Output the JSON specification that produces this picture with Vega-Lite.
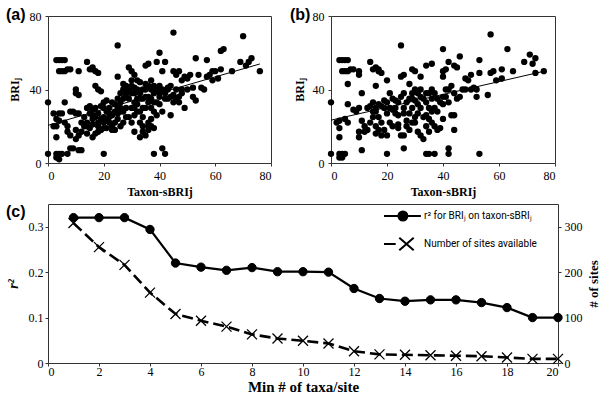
{
  "$schema": "https://vega.github.io/schema/vega-lite/v6.json",
  "padding": {"left": 5, "top": 6, "right": 0, "bottom": 0},
  "background": "white",
  "datasets": {
    "a": [
      {"x":45,"y":71},{"x":70,"y":69},{"x":25,"y":64},
      {"x":3,"y":56},{"x":4,"y":56},{"x":5,"y":56},{"x":6,"y":56},
      {"x":4,"y":50},{"x":5,"y":50},{"x":6,"y":50},{"x":7,"y":51},{"x":8,"y":51},{"x":11,"y":50},
      {"x":14,"y":55},{"x":15,"y":51},{"x":16,"y":51},{"x":17,"y":50},{"x":18,"y":49},{"x":16,"y":52},
      {"x":10,"y":40},{"x":10,"y":38},{"x":11,"y":37},{"x":17,"y":42},{"x":18,"y":40},{"x":19,"y":39},
      {"x":0,"y":33},{"x":0,"y":5},{"x":3,"y":5},{"x":4,"y":5},{"x":5,"y":5},{"x":3,"y":3},{"x":4,"y":2},{"x":7,"y":5},{"x":8,"y":8},{"x":9,"y":8},{"x":11,"y":7},{"x":12,"y":7},{"x":20,"y":5},{"x":38,"y":5},{"x":41,"y":8},{"x":42,"y":5},
      {"x":2,"y":20},{"x":3,"y":20},{"x":3,"y":24},{"x":4,"y":23},{"x":3,"y":14},{"x":2,"y":27},{"x":4,"y":27},{"x":5,"y":27},{"x":6,"y":22},{"x":7,"y":20},{"x":7,"y":17},{"x":8,"y":15},{"x":6,"y":33},{"x":8,"y":28},{"x":9,"y":28},{"x":10,"y":27},{"x":11,"y":27},{"x":10,"y":18},{"x":11,"y":15},{"x":12,"y":17},{"x":13,"y":20},{"x":14,"y":20},{"x":10,"y":13},{"x":14,"y":30},{"x":15,"y":31},{"x":16,"y":26},{"x":16,"y":24},{"x":17,"y":30},{"x":17,"y":16},{"x":18,"y":20},{"x":18,"y":22},{"x":19,"y":18},{"x":20,"y":22},{"x":20,"y":25},{"x":21,"y":28},{"x":21,"y":19},{"x":22,"y":25},{"x":22,"y":30},{"x":23,"y":20},{"x":23,"y":18},{"x":24,"y":22},{"x":24,"y":32},{"x":25,"y":27},{"x":25,"y":24},{"x":25,"y":35},{"x":25,"y":47},{"x":26,"y":33},{"x":26,"y":38},{"x":27,"y":35},{"x":27,"y":40},{"x":28,"y":42},{"x":28,"y":30},{"x":29,"y":35},{"x":29,"y":52},{"x":30,"y":50},{"x":30,"y":45},{"x":31,"y":48},{"x":32,"y":45},{"x":32,"y":40},{"x":29,"y":25},{"x":30,"y":22},{"x":31,"y":17},{"x":30,"y":30},{"x":31,"y":33},{"x":32,"y":32},{"x":33,"y":28},{"x":33,"y":38},{"x":34,"y":35},{"x":34,"y":25},{"x":34,"y":20},{"x":35,"y":40},{"x":35,"y":43},{"x":35,"y":30},{"x":35,"y":15},{"x":36,"y":42},{"x":36,"y":20},{"x":36,"y":18},{"x":37,"y":45},{"x":37,"y":35},{"x":37,"y":30},{"x":38,"y":33},{"x":38,"y":38},{"x":38,"y":19},{"x":39,"y":40},{"x":39,"y":55},{"x":40,"y":60},{"x":40,"y":32},{"x":40,"y":36},{"x":41,"y":50},{"x":41,"y":40},{"x":41,"y":28},{"x":42,"y":55},{"x":42,"y":35},{"x":43,"y":40},{"x":43,"y":35},{"x":44,"y":42},{"x":44,"y":26},{"x":45,"y":50},{"x":45,"y":37},{"x":46,"y":48},{"x":46,"y":35},{"x":47,"y":50},{"x":47,"y":33},{"x":48,"y":40},{"x":48,"y":45},{"x":49,"y":30},{"x":49,"y":47},{"x":50,"y":46},{"x":50,"y":40},{"x":51,"y":48},{"x":52,"y":36},{"x":52,"y":41},{"x":53,"y":34},{"x":53,"y":57},{"x":54,"y":48},{"x":55,"y":41},{"x":56,"y":40},{"x":57,"y":47},{"x":57,"y":56},{"x":58,"y":48},{"x":59,"y":45},{"x":59,"y":50},{"x":60,"y":50},{"x":61,"y":46},{"x":62,"y":61},{"x":62,"y":51},{"x":63,"y":62},{"x":66,"y":50},{"x":69,"y":55},{"x":71,"y":53},{"x":72,"y":55},{"x":73,"y":57},{"x":76,"y":50},
      {"x":13,"y":25},{"x":14,"y":22},{"x":15,"y":19},{"x":16,"y":21},{"x":18,"y":27},{"x":19,"y":31},{"x":20,"y":33},{"x":20,"y":30},{"x":21,"y":34},{"x":22,"y":27},{"x":23,"y":33},{"x":24,"y":28},{"x":26,"y":20},{"x":26,"y":28},{"x":27,"y":22},{"x":27,"y":28},{"x":28,"y":25},{"x":28,"y":37},{"x":29,"y":40},{"x":30,"y":38},{"x":31,"y":38},{"x":32,"y":28},{"x":33,"y":22},{"x":33,"y":35},{"x":34,"y":40},{"x":35,"y":36},{"x":36,"y":36},{"x":36,"y":33},{"x":37,"y":24},{"x":38,"y":28},{"x":39,"y":33},{"x":40,"y":38},{"x":16,"y":29},{"x":17,"y":25},{"x":19,"y":24},{"x":21,"y":23},{"x":23,"y":26},{"x":25,"y":30},{"x":31,"y":26},{"x":34,"y":30},{"x":38,"y":42},{"x":39,"y":26},{"x":24,"y":18},{"x":22,"y":22},{"x":20,"y":19},{"x":18,"y":17},{"x":15,"y":27},{"x":12,"y":22},{"x":14,"y":16},{"x":16,"y":14},{"x":33,"y":14},{"x":34,"y":17},{"x":36,"y":22},{"x":37,"y":20},{"x":31,"y":41},{"x":33,"y":44},{"x":35,"y":53},{"x":36,"y":54},{"x":30,"y":42},{"x":27,"y":43},{"x":28,"y":38},{"x":26,"y":30},{"x":31,"y":30},{"x":32,"y":35},{"x":37,"y":40},{"x":40,"y":42},{"x":42,"y":38},{"x":43,"y":41},{"x":44,"y":36},{"x":45,"y":33},{"x":46,"y":40},{"x":47,"y":36},{"x":48,"y":38}
    ],
    "b": [
      {"x":25,"y":64},{"x":57,"y":70},{"x":40,"y":62},{"x":63,"y":62},
      {"x":3,"y":56},{"x":4,"y":56},{"x":5,"y":56},{"x":6,"y":56},{"x":14,"y":55},
      {"x":4,"y":50},{"x":5,"y":50},{"x":6,"y":50},{"x":7,"y":51},{"x":8,"y":51},{"x":10,"y":50},{"x":10,"y":48},{"x":15,"y":51},{"x":16,"y":52},{"x":17,"y":50},{"x":18,"y":49},{"x":17,"y":51},
      {"x":6,"y":43},{"x":11,"y":38},{"x":16,"y":42},{"x":20,"y":45},{"x":26,"y":48},{"x":25,"y":47},{"x":29,"y":51},{"x":30,"y":50},{"x":32,"y":47},{"x":34,"y":53},{"x":36,"y":54},{"x":40,"y":50},{"x":41,"y":51},{"x":42,"y":55},{"x":44,"y":53},{"x":45,"y":52},{"x":46,"y":58},{"x":40,"y":47},{"x":50,"y":48},{"x":49,"y":45},{"x":48,"y":46},{"x":52,"y":40},{"x":53,"y":56},{"x":53,"y":49},{"x":56,"y":37},{"x":57,"y":49},{"x":58,"y":50},{"x":59,"y":45},{"x":61,"y":51},{"x":61,"y":46},{"x":65,"y":50},{"x":69,"y":55},{"x":71,"y":59},{"x":72,"y":54},{"x":73,"y":57},{"x":73,"y":49},{"x":76,"y":50},{"x":47,"y":40},{"x":48,"y":40},{"x":50,"y":40},{"x":51,"y":41},{"x":43,"y":42},{"x":42,"y":40},{"x":44,"y":38},{"x":45,"y":35},{"x":46,"y":36},{"x":42,"y":33},{"x":40,"y":24},{"x":43,"y":26},{"x":44,"y":26},{"x":44,"y":18},{"x":42,"y":8},{"x":42,"y":5},{"x":53,"y":5},{"x":52,"y":36},
      {"x":0,"y":33},{"x":0,"y":5},{"x":3,"y":5},{"x":4,"y":5},{"x":5,"y":5},{"x":3,"y":3},{"x":4,"y":3},{"x":11,"y":7},{"x":20,"y":5},{"x":26,"y":8},{"x":34,"y":5},{"x":37,"y":5},{"x":35,"y":5},{"x":3,"y":23},{"x":2,"y":22},{"x":3,"y":19},{"x":3,"y":14},{"x":5,"y":24},{"x":6,"y":22},{"x":6,"y":32},{"x":8,"y":29},{"x":9,"y":28},{"x":10,"y":30},{"x":10,"y":17},{"x":10,"y":14},{"x":11,"y":23},{"x":12,"y":20},{"x":12,"y":17},{"x":13,"y":18},{"x":14,"y":22},{"x":14,"y":31},{"x":15,"y":28},{"x":15,"y":25},{"x":16,"y":30},{"x":16,"y":20},{"x":16,"y":16},{"x":17,"y":25},{"x":17,"y":18},{"x":18,"y":15},{"x":18,"y":22},{"x":19,"y":30},{"x":19,"y":18},{"x":20,"y":33},{"x":20,"y":27},{"x":20,"y":15},{"x":21,"y":38},{"x":21,"y":22},{"x":22,"y":35},{"x":22,"y":20},{"x":23,"y":34},{"x":23,"y":30},{"x":24,"y":26},{"x":24,"y":19},{"x":25,"y":36},{"x":25,"y":15},{"x":26,"y":38},{"x":26,"y":30},{"x":27,"y":33},{"x":27,"y":23},{"x":28,"y":43},{"x":28,"y":35},{"x":28,"y":18},{"x":29,"y":38},{"x":29,"y":30},{"x":30,"y":40},{"x":30,"y":34},{"x":30,"y":25},{"x":30,"y":22},{"x":31,"y":38},{"x":31,"y":32},{"x":31,"y":17},{"x":32,"y":40},{"x":32,"y":30},{"x":32,"y":15},{"x":33,"y":35},{"x":33,"y":13},{"x":34,"y":33},{"x":34,"y":26},{"x":34,"y":20},{"x":35,"y":30},{"x":35,"y":24},{"x":35,"y":17},{"x":36,"y":40},{"x":36,"y":35},{"x":36,"y":22},{"x":37,"y":38},{"x":37,"y":30},{"x":37,"y":20},{"x":38,"y":35},{"x":38,"y":28},{"x":38,"y":18},{"x":39,"y":33},{"x":39,"y":19},{"x":40,"y":36},{"x":40,"y":32},{"x":41,"y":40},{"x":41,"y":36},{"x":16,"y":28},{"x":18,"y":31},{"x":22,"y":29},{"x":24,"y":33},{"x":26,"y":27},{"x":28,"y":27},{"x":29,"y":22},{"x":31,"y":27},{"x":33,"y":25},{"x":34,"y":38},{"x":35,"y":38},{"x":36,"y":28},{"x":26,"y":15},{"x":24,"y":21},{"x":27,"y":20},{"x":29,"y":35},{"x":32,"y":36},{"x":23,"y":27},{"x":21,"y":30},{"x":19,"y":34},{"x":15,"y":33},{"x":13,"y":30},{"x":17,"y":32}
    ],
    "fitA": [{"x":0,"y":20.5},{"x":76,"y":53.9}],
    "fitB": [{"x":0,"y":23.3},{"x":76,"y":49.9}],
    "c": [
      {"n":1,"r2":0.32,"sites":308},{"n":2,"r2":0.32,"sites":255},{"n":3,"r2":0.32,"sites":216},{"n":4,"r2":0.294,"sites":155},{"n":5,"r2":0.22,"sites":108},{"n":6,"r2":0.211,"sites":93},{"n":7,"r2":0.204,"sites":80},{"n":8,"r2":0.21,"sites":63},{"n":9,"r2":0.201,"sites":54},{"n":10,"r2":0.201,"sites":49},{"n":11,"r2":0.2,"sites":43},{"n":12,"r2":0.164,"sites":26},{"n":13,"r2":0.142,"sites":19},{"n":14,"r2":0.136,"sites":18},{"n":15,"r2":0.139,"sites":17},{"n":16,"r2":0.139,"sites":16},{"n":17,"r2":0.133,"sites":15},{"n":18,"r2":0.122,"sites":12},{"n":19,"r2":0.1,"sites":9},{"n":20,"r2":0.1,"sites":9}
    ]
  },
  "spacing": 5,
  "resolve": {"scale": {"fill": "independent", "stroke": "independent"}, "legend": {"fill": "independent", "stroke": "independent"}},
  "vconcat": [
    {
      "spacing": 17,
      "hconcat": [
        {
          "width": 223, "height": 147,
          "title": {"text": "(a)", "frame": "group", "anchor": "start", "dx": -42, "offset": 0, "dy": 26, "baseline": "alphabetic"},
          "layer": [
            {"data": {"name": "a"}, "mark": {"type": "circle", "color": "black", "opacity": 1, "size": 40},
             "encoding": {
               "x": {"field": "x", "type": "quantitative", "scale": {"domain": [0, 80], "nice": false}, "axis": {"title": "Taxon-sBRIj", "values": [0, 20, 40, 60, 80], "titlePadding": 5}},
               "y": {"field": "y", "type": "quantitative", "scale": {"domain": [0, 80], "nice": false}, "axis": {"title": "BRIⱼ", "values": [0, 20, 40, 60, 80], "titlePadding": 8}}
             }},
            {"data": {"name": "fitA"}, "mark": {"type": "line", "color": "black", "strokeWidth": 1},
             "encoding": {"x": {"field": "x", "type": "quantitative"}, "y": {"field": "y", "type": "quantitative"}}}
          ]
        },
        {
          "width": 224, "height": 147,
          "title": {"text": "(b)", "frame": "group", "anchor": "start", "dx": -41, "offset": 0, "dy": 26, "baseline": "alphabetic"},
          "layer": [
            {"data": {"name": "b"}, "mark": {"type": "circle", "color": "black", "opacity": 1, "size": 40},
             "encoding": {
               "x": {"field": "x", "type": "quantitative", "scale": {"domain": [0, 80], "nice": false}, "axis": {"title": "Taxon-sBRIj", "values": [0, 20, 40, 60, 80], "titlePadding": 5}},
               "y": {"field": "y", "type": "quantitative", "scale": {"domain": [0, 80], "nice": false}, "axis": {"title": "BRIⱼ", "values": [0, 20, 40, 60, 80], "titlePadding": 6}}
             }},
            {"data": {"name": "fitB"}, "mark": {"type": "line", "color": "black", "strokeWidth": 1},
             "encoding": {"x": {"field": "x", "type": "quantitative"}, "y": {"field": "y", "type": "quantitative"}}}
          ]
        }
      ]
    },
    {
      "width": 510, "height": 159,
      "title": {"text": "(c)", "frame": "group", "anchor": "start", "dx": -42, "offset": 0, "dy": 29, "baseline": "alphabetic"},
      "data": {"name": "c"},
      "encoding": {
        "x": {"field": "n", "type": "quantitative", "scale": {"domain": [0, 20], "nice": false}, "axis": {"title": "Min # of taxa/site", "values": [0,2,4,6,8,10,12,14,16,18,20], "titleFontSize": 15, "labelPadding": 0, "titlePadding": 2}}
      },
      "layer": [
        {
          "layer": [
            {"mark": {"type": "line", "color": "black", "strokeWidth": 2.2},
             "encoding": {
               "y": {"field": "r2", "type": "quantitative", "scale": {"domain": [0, 0.35], "nice": false}, "axis": {"title": "r²", "titleFontStyle": "italic", "titleFontSize": 14, "values": [0, 0.1, 0.2, 0.3], "format": "~g", "labelPadding": 2, "titlePadding": 8}}
             }},
            {"mark": {"type": "point", "shape": "circle", "filled": true, "stroke": "black", "strokeWidth": 1, "opacity": 1, "size": 70},
             "encoding": {
               "y": {"field": "r2", "type": "quantitative"},
               "fill": {"datum": "r² for BRIⱼ on taxon-sBRIⱼ", "scale": {"range": ["black"]},
                 "legend": {"title": null, "orient": "none", "legendX": 335, "legendY": 2, "padding": 0,
                   "symbolType": "M-1,0L3.1,0M0.6,0A0.5,0.5 0 1,1 1.6,0A0.5,0.5 0 1,1 0.6,0Z",
                   "symbolSize": 324, "symbolStrokeColor": "black", "symbolFillColor": "black", "symbolStrokeWidth": 2, "symbolOpacity": 1,
                   "labelOffset": 21, "labelFont": "Roboto", "labelFontSize": 10, "labelColor": "black"}}
             }}
          ]
        },
        {
          "layer": [
            {"mark": {"type": "line", "color": "black", "strokeWidth": 2.6, "strokeDash": [11, 5]},
             "encoding": {
               "y": {"field": "sites", "type": "quantitative", "scale": {"domain": [0, 350], "nice": false}, "axis": {"orient": "right", "title": "# of sites", "titleAngle": 270, "titleBaseline": "top", "titleFontSize": 13, "values": [0, 100, 200, 300], "labelPadding": 3, "titlePadding": 5}}
             }},
            {"mark": {"type": "point", "shape": "M-1,-1L1,1M-1,1L1,-1", "filled": false, "opacity": 1, "size": 100, "strokeWidth": 1.3},
             "encoding": {
               "y": {"field": "sites", "type": "quantitative"},
               "stroke": {"datum": "Number of sites available", "scale": {"range": ["black"]},
                 "legend": {"title": null, "orient": "none", "legendX": 335, "legendY": 30, "padding": 0,
                   "symbolType": "M-1,0L0.3,0M0.7,-0.7L2.3,0.7M0.7,0.7L2.3,-0.7",
                   "symbolSize": 324, "symbolStrokeColor": "black", "symbolStrokeWidth": 2, "symbolOpacity": 1,
                   "labelOffset": 21, "labelFont": "Roboto", "labelFontSize": 10, "labelColor": "black"}}
             }}
          ]
        }
      ],
      "resolve": {"scale": {"y": "independent", "fill": "independent", "stroke": "independent"}}
    }
  ],
  "config": {
    "view": {"stroke": "#333", "strokeWidth": 1},
    "axis": {"domain": false, "grid": false, "ticks": true, "tickSize": 3, "tickColor": "#333", "labelFont": "Liberation Serif", "labelFontSize": 12, "labelColor": "black", "titleFont": "Liberation Serif", "titleFontSize": 12, "titleFontWeight": "bold", "titleColor": "black", "labelPadding": 4},
    "title": {"font": "Liberation Sans", "fontSize": 16, "fontWeight": "bold", "color": "black"}
  }
}
